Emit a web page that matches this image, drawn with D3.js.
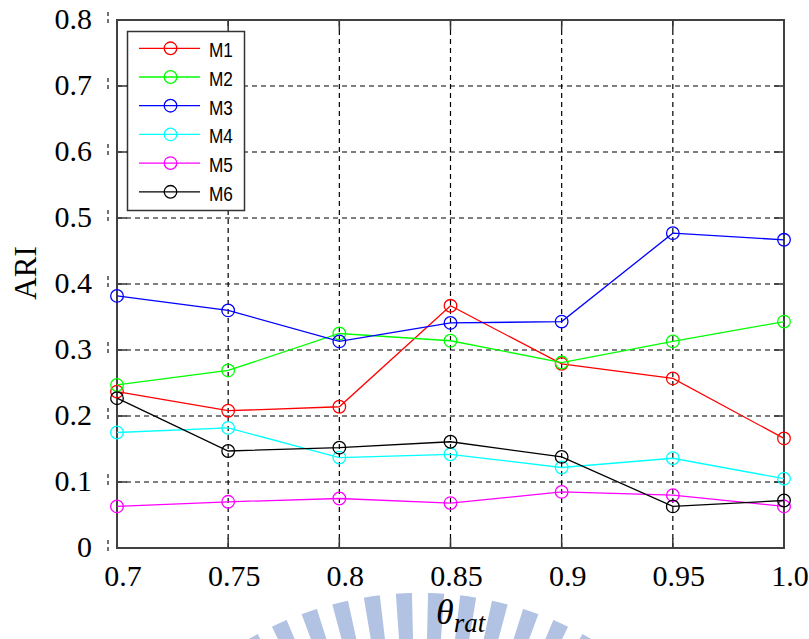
<!DOCTYPE html>
<html>
<head>
<meta charset="utf-8">
<script src="https://cdn.jsdelivr.net/npm/d3@7"></script>
<style>
  html, body { margin: 0; padding: 0; background: #fff; }
  svg { display: block; }
</style>
</head>
<body>
<svg id="chart" width="809" height="639"></svg>
<script>
// ---- data ----
const xValues = [0.7, 0.75, 0.8, 0.85, 0.9, 0.95, 1.0];
const xTickLabels = ["0.7", "0.75", "0.8", "0.85", "0.9", "0.95", "1.0"];
const yTicks = [0, 0.1, 0.2, 0.3, 0.4, 0.5, 0.6, 0.7, 0.8];
const yTickLabels = ["0", "0.1", "0.2", "0.3", "0.4", "0.5", "0.6", "0.7", "0.8"];
const seriesNames = ["M1", "M2", "M3", "M4", "M5", "M6"];
const seriesColors = ["#ff0000", "#00ff00", "#0000ff", "#00ffff", "#ff00ff", "#000000"];
const M1 = [0.237, 0.208, 0.214, 0.367, 0.279, 0.257, 0.166];
const M2 = [0.247, 0.269, 0.325, 0.314, 0.281, 0.313, 0.343];
const M3 = [0.382, 0.360, 0.313, 0.341, 0.343, 0.477, 0.467];
const M4 = [0.175, 0.182, 0.137, 0.142, 0.122, 0.136, 0.105];
const M5 = [0.063, 0.070, 0.075, 0.068, 0.085, 0.080, 0.063];
const M6 = [0.227, 0.147, 0.152, 0.161, 0.138, 0.063, 0.072];
const seriesValues = [M1, M2, M3, M4, M5, M6];

// ---- layout ----
const L = 117, R = 784, T = 20, B = 548;
const svg = d3.select("#chart");
const x = d3.scaleLinear().domain([0.7, 1.0]).range([L, R]);
const y = d3.scaleLinear().domain([0, 0.8]).range([B, T]);

// ---- watermark (decorative logo arc) ----
const wm = svg.append("g").attr("transform", "translate(420,935)");
const pitch = 5.4 * Math.PI / 180, half = 1.35 * Math.PI / 180;
const arcGen = d3.arc().innerRadius(255).outerRadius(342);
d3.range(-8, 8).forEach(k => {
  const a = (k + 0.5) * pitch;
  wm.append("path")
    .attr("d", arcGen({startAngle: a - half, endAngle: a + half}))
    .attr("fill", "#b1c2e3");
});

// ---- grid ----
const grid = svg.append("g").attr("stroke", "#000").attr("stroke-width", 1.2)
  .attr("stroke-dasharray", "5,4").attr("fill", "none");
grid.selectAll("line.gx").data(xValues.slice(1, -1)).join("line")
  .attr("x1", d => x(d)).attr("x2", d => x(d)).attr("y1", B).attr("y2", T);
grid.selectAll("line.gy").data(yTicks.slice(1, -1)).join("line")
  .attr("x1", L).attr("x2", R).attr("y1", d => y(d)).attr("y2", d => y(d));

// ---- inner ticks (all four sides) ----
const tk = svg.append("g").attr("stroke", "#333").attr("stroke-width", 1.5);
xValues.forEach(v => {
  tk.append("line").attr("x1", x(v)).attr("x2", x(v)).attr("y1", B).attr("y2", B - 10);
  tk.append("line").attr("x1", x(v)).attr("x2", x(v)).attr("y1", T).attr("y2", T + 10);
});
yTicks.forEach(v => {
  tk.append("line").attr("x1", L).attr("x2", L + 10).attr("y1", y(v)).attr("y2", y(v));
  tk.append("line").attr("x1", R).attr("x2", R - 10).attr("y1", y(v)).attr("y2", y(v));
});

// ---- axes box ----
svg.append("rect").attr("x", L).attr("y", T).attr("width", R - L).attr("height", B - T)
  .attr("fill", "none").attr("stroke", "#404040").attr("stroke-width", 2);

// ---- series ----
const line = d3.line().x((d, i) => x(xValues[i])).y(d => y(d));
seriesValues.forEach((vals, si) => {
  const g = svg.append("g");
  g.append("path").attr("d", line(vals)).attr("fill", "none")
    .attr("stroke", seriesColors[si]).attr("stroke-width", 1.3);
  g.selectAll("circle").data(vals).join("circle")
    .attr("cx", (d, i) => x(xValues[i])).attr("cy", d => y(d)).attr("r", 6.3)
    .attr("fill", "none").attr("stroke", seriesColors[si]).attr("stroke-width", 1.3);
});

// ---- tick labels ----
const serif = "'Liberation Serif', 'Times New Roman', serif";
svg.append("g").selectAll("text").data(xValues).join("text")
  .attr("x", d => x(d) + 6).attr("y", 586)
  .attr("text-anchor", "middle").attr("font-family", serif).attr("font-size", 30)
  .attr("fill", "#000").text((d, i) => xTickLabels[i]);
svg.append("g").selectAll("text").data(yTicks).join("text")
  .attr("x", 92).attr("y", d => y(d) + 9)
  .attr("text-anchor", "end").attr("font-family", serif).attr("font-size", 30)
  .attr("fill", "#000").text((d, i) => yTickLabels[i]);
// small leftover tick marks left of axis
svg.append("g").attr("stroke", "#444").attr("stroke-width", 1.5).attr("stroke-dasharray", "4,3")
  .selectAll("line").data(yTicks).join("line")
  .attr("x1", 108).attr("x2", 108).attr("y1", d => y(d) - 8).attr("y2", d => y(d) + 4);

// ---- axis titles ----
svg.append("text").attr("transform", "translate(36,273) rotate(-90)")
  .attr("text-anchor", "middle").attr("font-family", serif).attr("font-size", 31)
  .attr("fill", "#000").text("ARI");
const xt = svg.append("text").attr("x", 436).attr("y", 624)
  .attr("font-family", serif).attr("font-style", "italic").attr("fill", "#000");
xt.append("tspan").attr("font-size", 36).text("θ");
xt.append("tspan").attr("font-size", 27).attr("dy", 8).text("rat");

// ---- legend ----
const lg = svg.append("g");
lg.append("rect").attr("x", 127.5).attr("y", 31.5).attr("width", 117).attr("height", 179)
  .attr("fill", "#fff").attr("stroke", "#333").attr("stroke-width", 1.5);
seriesNames.forEach((name, i) => {
  const yy = 48.3 + i * 28.7;
  lg.append("line").attr("x1", 139).attr("x2", 200).attr("y1", yy).attr("y2", yy)
    .attr("stroke", seriesColors[i]).attr("stroke-width", 1.3);
  lg.append("circle").attr("cx", 170.5).attr("cy", yy).attr("r", 6.3)
    .attr("fill", "none").attr("stroke", seriesColors[i]).attr("stroke-width", 1.3);
  lg.append("text").attr("transform", `translate(209,${yy + 9}) scale(0.84,1)`)
    .attr("font-family", "'Liberation Sans', Arial, sans-serif").attr("font-size", 20.5)
    .attr("fill", "#000").text(name);
});
</script>
</body>
</html>
